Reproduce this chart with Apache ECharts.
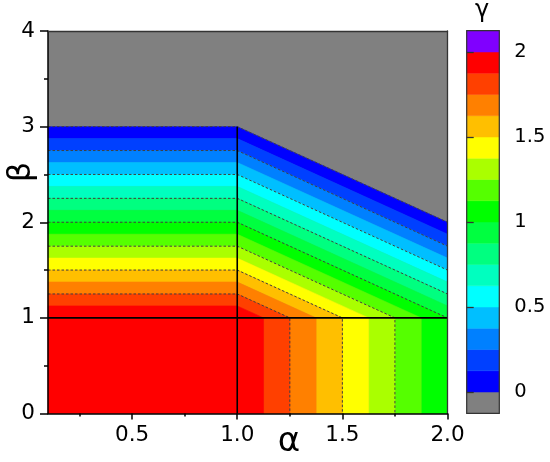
<!DOCTYPE html>
<html><head><meta charset="utf-8">
<script src="https://cdn.jsdelivr.net/npm/echarts@6/dist/echarts.min.js"></script>
<style>html,body{margin:0;padding:0;background:#fff}#c{width:550px;height:462px}</style>
</head><body><div id="c"></div>
<script>
// γ contour levels = colour-bar band edges
const gammaLevels = [0, 0.125, 0.25, 0.375, 0.5, 0.625, 0.75, 0.875, 1, 1.125, 1.25, 1.375, 1.5, 1.625, 1.75, 1.875, 2];
const bandColors = ['#0000FF', '#0040FF', '#0080FF', '#00BFFF', '#00FFFF', '#00FFBF', '#00FF80', '#00FF40',
                    '#00FF00', '#55FF00', '#AAFF00', '#FFFF00', '#FFBF00', '#FF8000', '#FF4000', '#FF0000'];
const belowColor = '#808080';
const aboveColor = '#8000FF';
const colorbarRange = [-0.125, 2.125];
const colorbarTicks = [0, 0.5, 1, 1.5, 2];

const alphaRange = [0.1, 2.0];
const betaRange = [0, 4];
const alphaLabelTicks = [0.5, 1.0, 1.5, 2.0];
const alphaMinorTicks = [0.25, 0.75, 1.25, 1.75];

// contour line (α, β) vertices, one per level in gammaLevels
const contourLines = [
  [[0.1, 3],     [1, 3],     [2, 2]],
  [[0.1, 2.875], [1, 2.875], [2, 1.875]],
  [[0.1, 2.75],  [1, 2.75],  [2, 1.75]],
  [[0.1, 2.625], [1, 2.625], [2, 1.625]],
  [[0.1, 2.5],   [1, 2.5],   [2, 1.5]],
  [[0.1, 2.375], [1, 2.375], [2, 1.375]],
  [[0.1, 2.25],  [1, 2.25],  [2, 1.25]],
  [[0.1, 2.125], [1, 2.125], [2, 1.125]],
  [[0.1, 2],     [1, 2],     [2, 1],     [2, 0]],
  [[0.1, 1.875], [1, 1.875], [1.875, 1], [1.875, 0]],
  [[0.1, 1.75],  [1, 1.75],  [1.75, 1],  [1.75, 0]],
  [[0.1, 1.625], [1, 1.625], [1.625, 1], [1.625, 0]],
  [[0.1, 1.5],   [1, 1.5],   [1.5, 1],   [1.5, 0]],
  [[0.1, 1.375], [1, 1.375], [1.375, 1], [1.375, 0]],
  [[0.1, 1.25],  [1, 1.25],  [1.25, 1],  [1.25, 0]],
  [[0.1, 1.125], [1, 1.125], [1.125, 1], [1.125, 0]],
  [[0.1, 1],     [1, 1],     [1, 0]]
];
// region where γ = 2 (plateau)
const plateauRegion = [[0.1, 0], [0.1, 1], [1, 1], [1, 0]];
const plateauValue = 2;
// levels drawn as dashed contour lines
const dashedLevels = [0, 0.25, 0.5, 0.75, 1, 1.25, 1.5, 1.75];
// solid region boundaries
const boundaryLines = [[[1, 0], [1, 3]], [[0.1, 1], [2, 1]]];

function colorFor(g) {
  if (g < gammaLevels[0]) return belowColor;
  for (let k = 0; k < bandColors.length; k++) if (g <= gammaLevels[k + 1]) return bandColors[k];
  return aboveColor;
}

const polys = [];
for (let k = 0; k < bandColors.length; k++) {
  polys.push({ pts: contourLines[k].concat(contourLines[k + 1].slice().reverse()), color: bandColors[k] });
}
polys.push({ pts: plateauRegion, color: colorFor(plateauValue) });

// colour bar bands
const cbEdges = [colorbarRange[0]].concat(gammaLevels, [colorbarRange[1]]);
const cbColors = [belowColor].concat(bandColors, [aboveColor]);
const cbData = [];
for (let i = 0; i < cbColors.length; i++) cbData.push([0, cbEdges[i], 1, cbEdges[i + 1], i]);

const FONT = 'DejaVu Sans';
const chart = echarts.init(document.getElementById('c'), null, { renderer: 'canvas' });

const series = [
  {
    type: 'custom', xAxisIndex: 0, yAxisIndex: 0, silent: true, z: 2,
    data: polys.map(p => p.pts[0]),
    renderItem: (params, api) => {
      const p = polys[params.dataIndex];
      return { type: 'polygon', shape: { points: p.pts.map(pt => api.coord(pt)) },
               style: { fill: p.color, stroke: p.color, lineWidth: 0.6 } };
    }
  }
];
dashedLevels.forEach(g => {
  const idx = gammaLevels.indexOf(g);
  series.push({
    type: 'line', xAxisIndex: 0, yAxisIndex: 0, data: contourLines[idx], symbol: 'none', silent: true, z: 3,
    lineStyle: { color: '#404040', width: 1, type: [2.5, 2] }, animation: false
  });
});
boundaryLines.forEach(seg => {
  series.push({
    type: 'line', xAxisIndex: 0, yAxisIndex: 0, data: seg, symbol: 'none', silent: true, z: 4,
    lineStyle: { color: '#000', width: 1.6 }, animation: false
  });
});
series.push({
  type: 'custom', xAxisIndex: 3, yAxisIndex: 2, silent: true, z: 2,
  data: cbData,
  renderItem: (params, api) => {
    const a = api.coord([api.value(0), api.value(3)]);
    const b = api.coord([api.value(2), api.value(1)]);
    const c = cbColors[api.value(4)];
    return { type: 'rect', shape: { x: a[0], y: a[1], width: b[0] - a[0], height: b[1] - a[1] },
             style: { fill: c, stroke: c, lineWidth: 0.5 } };
  }
});
series.push({
  type: 'custom', xAxisIndex: 3, yAxisIndex: 2, silent: true, z: 5,
  data: [[0, colorbarRange[0], 1, colorbarRange[1]]],
  renderItem: (params, api) => {
    const a = api.coord([api.value(0), api.value(3)]);
    const b = api.coord([api.value(2), api.value(1)]);
    return { type: 'rect', shape: { x: a[0], y: a[1], width: b[0] - a[0], height: b[1] - a[1] },
             style: { fill: 'none', stroke: '#333', lineWidth: 1.2 } };
  }
});

const lab = { color: '#000', fontSize: 21.5, fontFamily: FONT };
const option = {
  animation: false,
  backgroundColor: '#fff',
  grid: [
    { left: 48, top: 31, right: 102.5, bottom: 48.5, show: true, backgroundColor: belowColor, borderWidth: 0 },
    { left: 466.7, top: 30.7, width: 32.6, height: 382.6, show: false }
  ],
  xAxis: [
    { type: 'value', gridIndex: 0, min: alphaRange[0], max: alphaRange[1], position: 'bottom', z: 10,
      axisLine: { show: true, lineStyle: { color: '#000', width: 1.5 } },
      axisTick: { show: true, customValues: alphaLabelTicks, length: 6, lineStyle: { color: '#000', width: 1.5 } },
      axisLabel: Object.assign({ customValues: alphaLabelTicks, formatter: v => v.toFixed(1), margin: 11 }, lab),
      splitLine: { show: false } },
    { type: 'value', gridIndex: 0, min: alphaRange[0], max: alphaRange[1], position: 'bottom', z: 10,
      axisLine: { show: false },
      axisTick: { show: true, customValues: alphaMinorTicks, length: 3, lineStyle: { color: '#000', width: 1.5 } },
      axisLabel: { show: false }, splitLine: { show: false } },
    { type: 'value', gridIndex: 0, min: alphaRange[0], max: alphaRange[1], position: 'top', z: 10,
      axisLine: { show: true, lineStyle: { color: '#333', width: 1.3 } },
      axisTick: { show: false }, axisLabel: { show: false }, splitLine: { show: false } },
    { type: 'value', gridIndex: 1, min: 0, max: 1, show: false }
  ],
  yAxis: [
    { type: 'value', gridIndex: 0, min: betaRange[0], max: betaRange[1], interval: 1, position: 'left', z: 10,
      axisLine: { show: true, lineStyle: { color: '#000', width: 1.5 } },
      axisTick: { show: true, length: 8, lineStyle: { color: '#000', width: 1.5 } },
      minorTick: { show: true, splitNumber: 2, length: 4, lineStyle: { color: '#000', width: 1.5 } },
      axisLabel: Object.assign({ margin: 13 }, lab),
      splitLine: { show: false }, minorSplitLine: { show: false } },
    { type: 'value', gridIndex: 0, min: betaRange[0], max: betaRange[1], position: 'right', z: 10,
      axisLine: { show: true, lineStyle: { color: '#333', width: 1.3 } },
      axisTick: { show: false }, axisLabel: { show: false }, splitLine: { show: false } },
    { type: 'value', gridIndex: 1, min: colorbarRange[0], max: colorbarRange[1], position: 'right', z: 10,
      axisLine: { show: false },
      axisTick: { show: true, customValues: colorbarTicks, length: 7, lineStyle: { color: '#333', width: 1.3 } },
      axisLabel: Object.assign({ customValues: colorbarTicks, formatter: v => String(v), margin: 15 }, lab, { fontSize: 19.5 }),
      splitLine: { show: false } }
  ],
  graphic: [
    { type: 'text', x: 289, y: 442, style: { text: 'α', fontSize: 34, fontFamily: FONT, fill: '#000', align: 'center', verticalAlign: 'middle' } },
    { type: 'text', x: 22, y: 172, rotation: Math.PI / 2, style: { text: 'β', fontSize: 32, fontFamily: FONT, fill: '#000', align: 'center', verticalAlign: 'middle' } },
    { type: 'text', x: 482, y: 11, style: { text: 'γ', fontSize: 24, fontFamily: FONT, fill: '#000', align: 'center', verticalAlign: 'middle' } }
  ],
  series: series
};
chart.setOption(option);
</script>
</body></html>
